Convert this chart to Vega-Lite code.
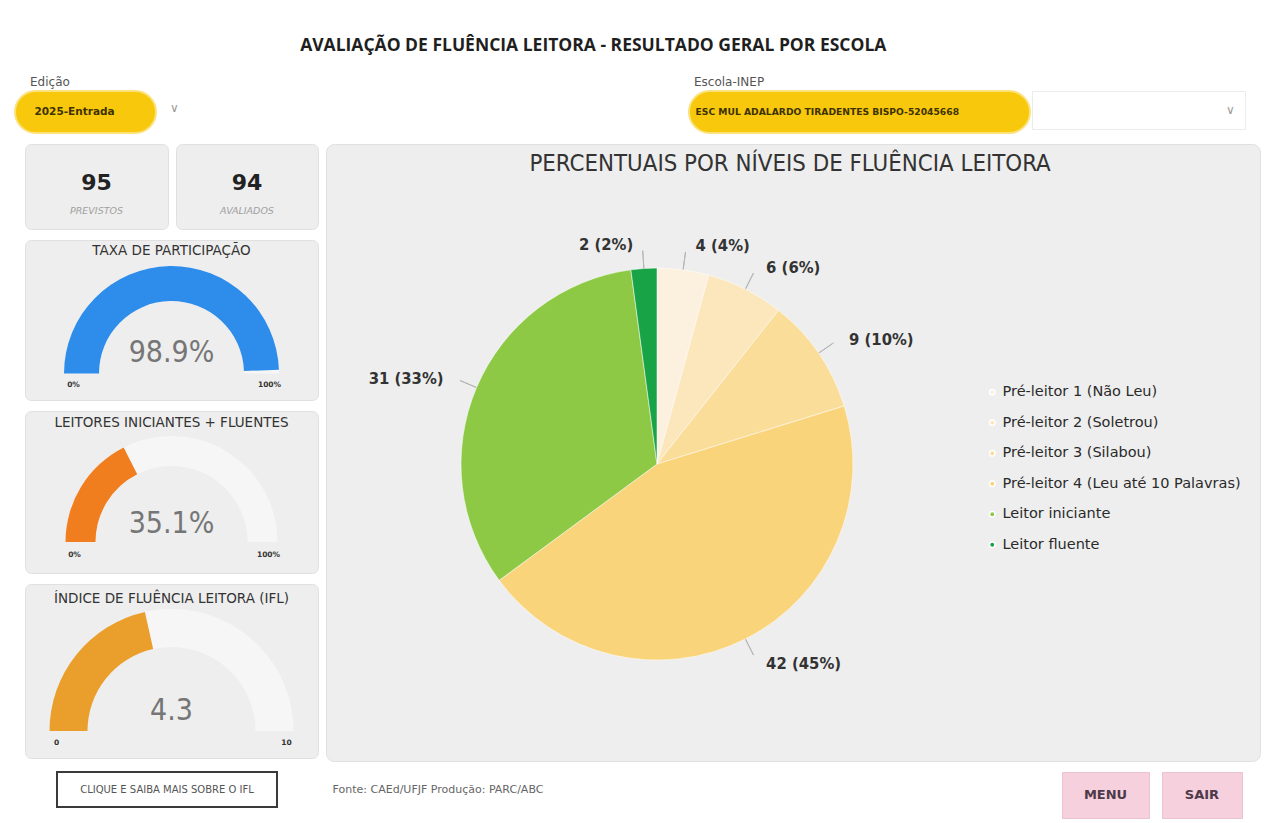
{
  "$schema": "https://vega.github.io/schema/vega-lite/v6.json",
  "background": "#FFFFFF",
  "padding": {"left": 14, "top": 36, "right": 0, "bottom": 0},
  "title": {"text": "AVALIAÇÃO DE FLUÊNCIA LEITORA -  RESULTADO GERAL POR ESCOLA", "anchor": "middle", "dx": -44, "font": "Open Sans", "fontSize": 17.5, "fontWeight": 700, "color": "#1F1F1F", "offset": 22},
  "spacing": 9,
  "resolve": {"legend": {"color": "independent"}, "scale": {"color": "independent"}},
  "datasets": {
    "niveis": [
      {"nivel": "Pré-leitor 1 (Não Leu)", "ordem": 1, "n": 4, "rotulo": "4 (4%)"},
      {"nivel": "Pré-leitor 2 (Soletrou)", "ordem": 2, "n": 6, "rotulo": "6 (6%)"},
      {"nivel": "Pré-leitor 3 (Silabou)", "ordem": 3, "n": 9, "rotulo": "9 (10%)"},
      {"nivel": "Pré-leitor 4 (Leu até 10 Palavras)", "ordem": 4, "n": 42, "rotulo": "42 (45%)"},
      {"nivel": "Leitor iniciante", "ordem": 5, "n": 31, "rotulo": "31 (33%)"},
      {"nivel": "Leitor fluente", "ordem": 6, "n": 2, "rotulo": "2 (2%)"}
    ],
    "indicadores": [
      {"indicador": "taxa", "titulo": "TAXA DE PARTICIPAÇÃO", "minimo": 0, "maximo": 100, "valor": 98.9, "texto": "98.9%"},
      {"indicador": "leitores", "titulo": "LEITORES INICIANTES + FLUENTES", "minimo": 0, "maximo": 100, "valor": 35.1, "texto": "35.1%"},
      {"indicador": "ifl", "titulo": "ÍNDICE DE FLUÊNCIA LEITORA (IFL)", "minimo": 0, "maximo": 10, "valor": 4.3, "texto": "4.3"}
    ],
    "escalas": [
      {"indicador": "taxa", "rotulo": "0%", "pos": 0},
      {"indicador": "taxa", "rotulo": "100%", "pos": 100},
      {"indicador": "leitores", "rotulo": "0%", "pos": 0},
      {"indicador": "leitores", "rotulo": "100%", "pos": 100},
      {"indicador": "ifl", "rotulo": "0", "pos": 0},
      {"indicador": "ifl", "rotulo": "10", "pos": 10}
    ],
    "kpis": [
      {"kpi": "previstos", "valor": "95", "rotulo": "PREVISTOS"},
      {"kpi": "avaliados", "valor": "94", "rotulo": "AVALIADOS"}
    ],
    "filtros": [
      {"filtro": "edicao", "texto": "2025-Entrada"},
      {"filtro": "escola", "texto": "ESC MUL ADALARDO TIRADENTES BISPO-52045668"}
    ],
    "rodape": [
      {"item": "botao", "texto": "CLIQUE E SAIBA MAIS SOBRE O IFL"},
      {"item": "fonte", "texto": "Fonte: CAEd/UFJF  Produção: PARC/ABC"},
      {"item": "menu", "texto": "MENU"},
      {"item": "sair", "texto": "SAIR"}
    ]
  },
  "vconcat": [
    {
      "spacing": 501,
      "hconcat": [
        {
          "title": {"text": "Edição", "anchor": "start", "dx": 16, "fontSize": 12, "fontWeight": "normal", "font": "DejaVu Sans", "color": "#555555", "offset": 1},
          "spacing": 5,
          "hconcat": [
            {
              "width": 141, "height": 42,
              "view": {"fill": "#F8C80C", "cornerRadius": 21, "stroke": "#FBE27A", "strokeWidth": 2},
              "data": {"name": "filtros"},
              "transform": [{"filter": "datum.filtro == 'edicao'"}],
              "mark": {"type": "text", "font": "DejaVu Sans", "fontSize": 10.5, "fontWeight": "bold", "color": "#3D3200", "align": "left", "dx": -51},
              "encoding": {"text": {"field": "texto"}}
            },
            {
              "width": 25, "height": 42,
              "data": {"values": [{"seta": "∨"}]},
              "mark": {"type": "text", "font": "DejaVu Sans", "fontSize": 12, "color": "#9A9A9A", "dy": -4},
              "encoding": {"text": {"field": "seta"}}
            }
          ]
        },
        {
          "title": {"text": "Escola-INEP", "anchor": "start", "dx": 6, "fontSize": 12, "fontWeight": "normal", "font": "DejaVu Sans", "color": "#555555", "offset": 1},
          "spacing": 0,
          "hconcat": [
            {
              "width": 341, "height": 42,
              "view": {"fill": "#F8C80C", "cornerRadius": 21, "stroke": "#FBE27A", "strokeWidth": 2},
              "data": {"name": "filtros"},
              "transform": [{"filter": "datum.filtro == 'escola'"}],
              "mark": {"type": "text", "font": "DejaVu Sans", "fontSize": 9.2, "fontWeight": "bold", "color": "#3D3200", "align": "left", "dx": -164},
              "encoding": {"text": {"field": "texto"}}
            },
            {
              "width": 213, "height": 38,
              "view": {"fill": "#FFFFFF", "stroke": "#ECECEC"},
              "data": {"values": [{"seta": "∨"}]},
              "mark": {"type": "text", "font": "DejaVu Sans", "fontSize": 12, "color": "#9A9A9A", "dx": 92},
              "encoding": {"text": {"field": "seta"}}
            }
          ]
        }
      ]
    },
    {
      "spacing": 6,
      "resolve": {"legend": {"color": "independent"}, "scale": {"color": "independent"}},
      "hconcat": [
        {"width": 3, "height": 1, "data": {"values": [{"vazio": 0}]}, "mark": {"type": "point", "size": 0, "opacity": 0}},
        {
          "spacing": 9,
          "vconcat": [
            {
              "spacing": 6,
              "hconcat": [
                {
                  "width": 143, "height": 85,
                  "view": {"fill": "#EEEEEE", "cornerRadius": 6, "stroke": "#E0E0E0"},
                  "data": {"name": "kpis"},
                  "transform": [{"filter": "datum.kpi == 'previstos'"}],
                  "layer": [
                    {"mark": {"type": "text", "font": "DejaVu Sans", "fontSize": 22, "fontWeight": "bold", "color": "#222222", "dy": -4}, "encoding": {"text": {"field": "valor"}}},
                    {"mark": {"type": "text", "font": "DejaVu Sans", "fontSize": 9.5, "fontStyle": "italic", "color": "#A0A0A0", "dy": 24}, "encoding": {"text": {"field": "rotulo"}}}
                  ]
                },
                {
                  "width": 142, "height": 85,
                  "view": {"fill": "#EEEEEE", "cornerRadius": 6, "stroke": "#E0E0E0"},
                  "data": {"name": "kpis"},
                  "transform": [{"filter": "datum.kpi == 'avaliados'"}],
                  "layer": [
                    {"mark": {"type": "text", "font": "DejaVu Sans", "fontSize": 22, "fontWeight": "bold", "color": "#222222", "dy": -4}, "encoding": {"text": {"field": "valor"}}},
                    {"mark": {"type": "text", "font": "DejaVu Sans", "fontSize": 9.5, "fontStyle": "italic", "color": "#A0A0A0", "dy": 24}, "encoding": {"text": {"field": "rotulo"}}}
                  ]
                }
              ]
            },
            {
              "width": 293, "height": 160,
              "view": {"fill": "#EEEEEE", "cornerRadius": 6, "stroke": "#E0E0E0"},
              "data": {"name": "indicadores"},
              "transform": [{"filter": "datum.indicador == 'taxa'"}],
              "encoding": {
                "x": {"datum": 0, "type": "quantitative", "scale": {"domain": [-1.363, 1.363], "nice": false, "zero": false}, "axis": null},
                "y": {"datum": 0, "type": "quantitative", "scale": {"domain": [-0.2465, 1.242], "nice": false, "zero": false}, "axis": null}
              },
              "layer": [
                {"mark": {"type": "arc", "radius": 107.5, "radius2": 72.5, "color": "#F6F6F6"}, "encoding": {"theta": {"field": "minimo", "type": "quantitative", "stack": null, "scale": {"domain": [0, 100], "range": [-1.5708, 1.5708]}}, "theta2": {"field": "maximo"}}},
                {"mark": {"type": "arc", "radius": 107.5, "radius2": 72.5, "color": "#2E8CEB"}, "encoding": {"theta": {"field": "minimo", "type": "quantitative", "stack": null, "scale": {"domain": [0, 100], "range": [-1.5708, 1.5708]}}, "theta2": {"field": "valor"}}},
                {"mark": {"type": "text", "font": "DejaVu Sans Condensed, sans-serif", "fontSize": 30, "color": "#767676"}, "encoding": {"y": {"datum": 0.19}, "text": {"field": "texto"}}},
                {"mark": {"type": "text", "font": "DejaVu Sans", "fontSize": 13.5, "color": "#333333"}, "encoding": {"y": {"datum": 1.14}, "text": {"field": "titulo"}}},
                {
                  "data": {"name": "escalas"},
                  "transform": [{"filter": "datum.indicador == 'taxa'"}],
                  "mark": {"type": "text", "radius": 98, "dy": 11, "font": "DejaVu Sans", "fontSize": 7.5, "fontWeight": "bold", "color": "#333333"},
                  "encoding": {"theta": {"field": "pos", "type": "quantitative", "stack": null, "scale": {"domain": [0, 100], "range": [-1.5708, 1.5708]}}, "text": {"field": "rotulo"}}
                }
              ]
            },
            {
              "width": 293, "height": 162,
              "view": {"fill": "#EEEEEE", "cornerRadius": 6, "stroke": "#E0E0E0"},
              "data": {"name": "indicadores"},
              "transform": [{"filter": "datum.indicador == 'leitores'"}],
              "encoding": {
                "x": {"datum": 0, "type": "quantitative", "scale": {"domain": [-1.382, 1.382], "nice": false, "zero": false}, "axis": null},
                "y": {"datum": 0, "type": "quantitative", "scale": {"domain": [-0.292, 1.236], "nice": false, "zero": false}, "axis": null}
              },
              "layer": [
                {"mark": {"type": "arc", "radius": 106, "radius2": 76, "color": "#F6F6F6"}, "encoding": {"theta": {"field": "minimo", "type": "quantitative", "stack": null, "scale": {"domain": [0, 100], "range": [-1.5708, 1.5708]}}, "theta2": {"field": "maximo"}}},
                {"mark": {"type": "arc", "radius": 106, "radius2": 76, "color": "#F07E1E"}, "encoding": {"theta": {"field": "minimo", "type": "quantitative", "stack": null, "scale": {"domain": [0, 100], "range": [-1.5708, 1.5708]}}, "theta2": {"field": "valor"}}},
                {"mark": {"type": "text", "font": "DejaVu Sans Condensed, sans-serif", "fontSize": 30, "color": "#767676"}, "encoding": {"y": {"datum": 0.17}, "text": {"field": "texto"}}},
                {"mark": {"type": "text", "font": "DejaVu Sans", "fontSize": 13.5, "color": "#333333"}, "encoding": {"y": {"datum": 1.123}, "text": {"field": "titulo"}}},
                {
                  "data": {"name": "escalas"},
                  "transform": [{"filter": "datum.indicador == 'leitores'"}],
                  "mark": {"type": "text", "radius": 97, "dy": 13, "font": "DejaVu Sans", "fontSize": 7.5, "fontWeight": "bold", "color": "#333333"},
                  "encoding": {"theta": {"field": "pos", "type": "quantitative", "stack": null, "scale": {"domain": [0, 100], "range": [-1.5708, 1.5708]}}, "text": {"field": "rotulo"}}
                }
              ]
            },
            {
              "width": 293, "height": 174,
              "view": {"fill": "#EEEEEE", "cornerRadius": 6, "stroke": "#E0E0E0"},
              "data": {"name": "indicadores"},
              "transform": [{"filter": "datum.indicador == 'ifl'"}],
              "encoding": {
                "x": {"datum": 0, "type": "quantitative", "scale": {"domain": [-1.2008, 1.2008], "nice": false, "zero": false}, "axis": null},
                "y": {"datum": 0, "type": "quantitative", "scale": {"domain": [-0.221, 1.205], "nice": false, "zero": false}, "axis": null}
              },
              "layer": [
                {"mark": {"type": "arc", "radius": 122, "radius2": 84, "color": "#F6F6F6"}, "encoding": {"theta": {"field": "minimo", "type": "quantitative", "stack": null, "scale": {"domain": [0, 10], "range": [-1.5708, 1.5708]}}, "theta2": {"field": "maximo"}}},
                {"mark": {"type": "arc", "radius": 122, "radius2": 84, "color": "#EA9E2C"}, "encoding": {"theta": {"field": "minimo", "type": "quantitative", "stack": null, "scale": {"domain": [0, 10], "range": [-1.5708, 1.5708]}}, "theta2": {"field": "valor"}}},
                {"mark": {"type": "text", "font": "DejaVu Sans Condensed, sans-serif", "fontSize": 30, "color": "#767676"}, "encoding": {"y": {"datum": 0.164}, "text": {"field": "texto"}}},
                {"mark": {"type": "text", "font": "DejaVu Sans", "fontSize": 13.5, "color": "#333333"}, "encoding": {"y": {"datum": 1.082}, "text": {"field": "titulo"}}},
                {
                  "data": {"name": "escalas"},
                  "transform": [{"filter": "datum.indicador == 'ifl'"}],
                  "mark": {"type": "text", "radius": 115, "dy": 12, "font": "DejaVu Sans", "fontSize": 7.5, "fontWeight": "bold", "color": "#333333"},
                  "encoding": {"theta": {"field": "pos", "type": "quantitative", "stack": null, "scale": {"domain": [0, 10], "range": [-1.5708, 1.5708]}}, "text": {"field": "rotulo"}}
                }
              ]
            }
          ]
        },
        {
          "width": 934, "height": 617,
          "view": {"fill": "#EEEEEE", "cornerRadius": 8, "stroke": "#E0E0E0"},
          "data": {"name": "niveis"},
          "encoding": {
            "x": {"datum": 0, "type": "quantitative", "scale": {"domain": [-1.689, 3.077], "nice": false, "zero": false}, "axis": null},
            "y": {"datum": 0, "type": "quantitative", "scale": {"domain": [-1.515, 1.633], "nice": false, "zero": false}, "axis": null}
          },
          "layer": [
            {
              "mark": {"type": "arc", "radius": 214, "radius2": 0, "padAngle": 3.1416, "fill": null, "fillOpacity": 0, "stroke": "#B5B5B5", "strokeWidth": 1},
              "encoding": {
                "theta": {"field": "n", "type": "quantitative", "stack": true},
                "order": {"field": "ordem", "type": "quantitative"},
                "detail": {"field": "nivel"}
              }
            },
            {
              "mark": {"type": "arc", "radius": 196, "stroke": "#FFFFFF", "strokeWidth": 0.5},
              "encoding": {
                "theta": {"field": "n", "type": "quantitative", "stack": true},
                "order": {"field": "ordem", "type": "quantitative"},
                "color": {
                  "field": "nivel", "type": "nominal",
                  "scale": {
                    "domain": ["Pré-leitor 1 (Não Leu)", "Pré-leitor 2 (Soletrou)", "Pré-leitor 3 (Silabou)", "Pré-leitor 4 (Leu até 10 Palavras)", "Leitor iniciante", "Leitor fluente"],
                    "range": ["#FCF0DE", "#FCE7BD", "#FBDD9A", "#FAD47B", "#8DC945", "#19A347"]
                  },
                  "legend": {"title": null, "orient": "none", "legendX": 659, "legendY": 241, "symbolType": "circle", "symbolSize": 30, "labelFont": "DejaVu Sans", "labelFontSize": 14.5, "labelColor": "#2A2A2A", "rowPadding": 15.5, "labelOffset": 3, "padding": 0, "labelLimit": 300}
                }
              }
            },
            {
              "mark": {"type": "text", "radius": 222, "dy": 2, "font": "DejaVu Sans Condensed, DejaVu Sans, sans-serif", "fontSize": 16.5, "fontWeight": "bold", "color": "#333333",
                       "align": {"expr": "indexof(['Leitor iniciante','Leitor fluente'], datum.nivel) >= 0 ? 'right' : 'left'"},
                       "dx": {"expr": "indexof(['Leitor iniciante','Leitor fluente'], datum.nivel) >= 0 ? -9 : 9"}},
              "encoding": {
                "theta": {"field": "n", "type": "quantitative", "stack": true},
                "order": {"field": "ordem", "type": "quantitative"},
                "detail": {"field": "nivel"},
                "text": {"field": "rotulo"}
              }
            },
            {
              "data": {"values": [{"titulo": "PERCENTUAIS POR NÍVEIS DE FLUÊNCIA LEITORA"}]},
              "mark": {"type": "text", "font": "DejaVu Sans Condensed, DejaVu Sans, sans-serif", "fontSize": 23.8, "color": "#333333"},
              "encoding": {"x": {"datum": 0.679}, "y": {"datum": 1.531}, "text": {"field": "titulo"}}
            }
          ]
        }
      ]
    },
    {
      "spacing": 503,
      "hconcat": [
        {
          "spacing": 40,
          "hconcat": [
            {"width": 1, "height": 1, "data": {"values": [{"vazio": 0}]}, "mark": {"type": "point", "size": 0, "opacity": 0}},
            {
              "width": 220, "height": 35,
              "view": {"fill": "#FFFFFF", "stroke": "#3A3A3A", "strokeWidth": 2},
              "data": {"name": "rodape"},
              "transform": [{"filter": "datum.item == 'botao'"}],
              "mark": {"type": "text", "font": "DejaVu Sans", "fontSize": 10, "color": "#555555"},
              "encoding": {"text": {"field": "texto"}}
            },
            {
              "width": 240, "height": 35,
              "data": {"name": "rodape"},
              "transform": [{"filter": "datum.item == 'fonte'"}],
              "mark": {"type": "text", "font": "DejaVu Sans", "fontSize": 11, "color": "#666666"},
              "encoding": {"text": {"field": "texto"}}
            }
          ]
        },
        {
          "spacing": 11,
          "hconcat": [
            {
              "width": 87, "height": 46,
              "view": {"fill": "#F7D0DD", "stroke": "#EBC3D0"},
              "data": {"name": "rodape"},
              "transform": [{"filter": "datum.item == 'menu'"}],
              "mark": {"type": "text", "font": "DejaVu Sans", "fontSize": 13, "fontWeight": "bold", "color": "#4D3A4A"},
              "encoding": {"text": {"field": "texto"}}
            },
            {
              "width": 80, "height": 46,
              "view": {"fill": "#F7D0DD", "stroke": "#EBC3D0"},
              "data": {"name": "rodape"},
              "transform": [{"filter": "datum.item == 'sair'"}],
              "mark": {"type": "text", "font": "DejaVu Sans", "fontSize": 13, "fontWeight": "bold", "color": "#4D3A4A"},
              "encoding": {"text": {"field": "texto"}}
            }
          ]
        }
      ]
    }
  ],
  "config": {
    "view": {"stroke": null},
    "font": "DejaVu Sans"
  }
}
